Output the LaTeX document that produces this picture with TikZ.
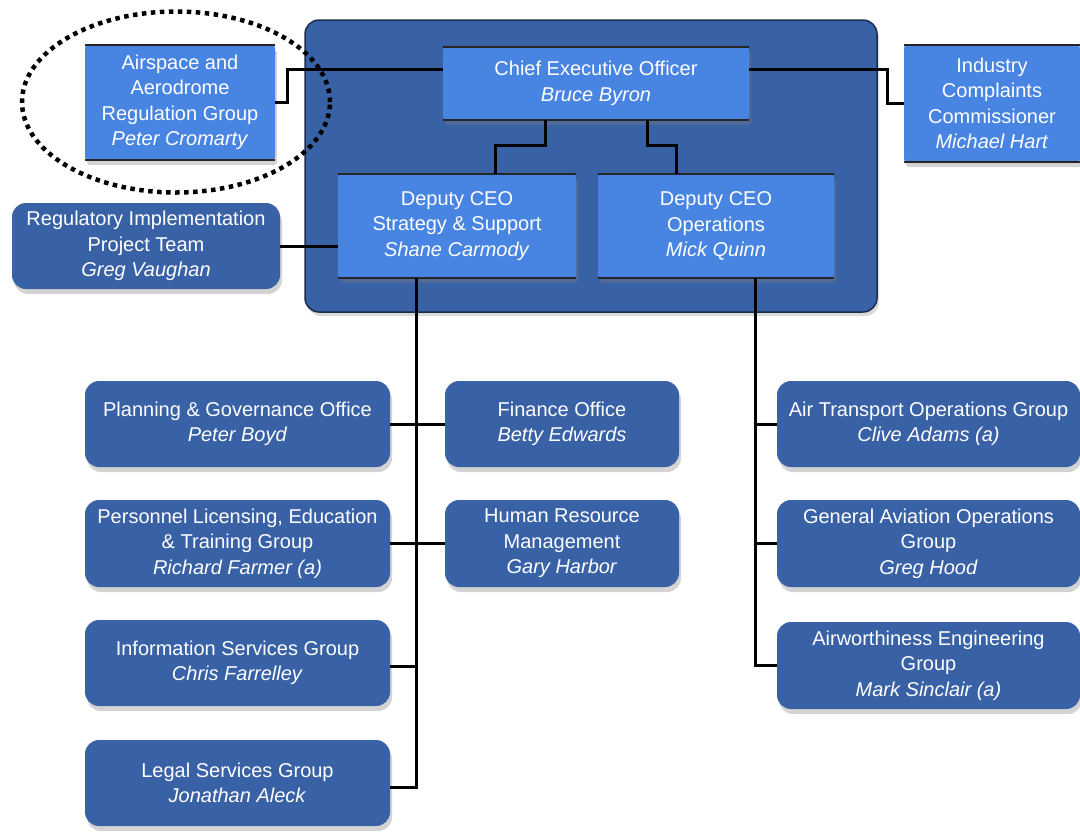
\documentclass[tikz,border=0pt]{standalone}
\usepackage{fontspec}
\setmainfont{Liberation Sans}
\usetikzlibrary{shadows,calc,shapes.geometric}
\definecolor{darkbox}{RGB}{56,97,166}
\definecolor{lightbox}{RGB}{72,132,226}
\definecolor{frame}{RGB}{28,45,80}
\tikzset{
  base/.style={text=white, align=center, inner sep=2pt,
    font=\fontsize{20}{25.5}\selectfont},
  dbox/.style={base, fill=darkbox, rounded corners=14pt,
    drop shadow={opacity=0.35, shadow xshift=2pt, shadow yshift=-5pt}},
  lbox/.style={base, fill=lightbox, rounded corners=3pt,
    drop shadow={opacity=0.35, shadow xshift=2pt, shadow yshift=-5pt}},
  container/.style={fill=darkbox, draw=frame, line width=1.5pt, rounded corners=14pt,
    drop shadow={opacity=0.3, shadow xshift=2pt, shadow yshift=-4pt}},
  conn/.style={draw=black, line width=3pt},
  edge/.style={draw=black!85, line width=1.8pt},
  ring/.style={draw=black, line width=4.5pt, dash pattern=on 4.5pt off 4.5pt}
}
\begin{document}
\begin{tikzpicture}[x=1pt,y=-1pt]
\useasboundingbox (0,0) rectangle (1080,831);

% container
\node[container, minimum width=572pt, minimum height=292pt] (ctr) at (591,166) {};

% light boxes
\node[lbox, minimum width=306pt, minimum height=73pt] (ceo) at (596,83.5)
  {Chief Executive Officer\\\textit{Bruce Byron}};
\node[lbox, minimum width=238pt, minimum height=104pt] (dss) at (457,226)
  {Deputy CEO\\Strategy \& Support\\\textit{Shane Carmody}};
\node[lbox, minimum width=236pt, minimum height=104pt] (ops) at (716,226)
  {Deputy CEO\\Operations\\\textit{Mick Quinn}};
\node[lbox, minimum width=190pt, minimum height=115pt] (air) at (180,102.5)
  {Airspace and\\Aerodrome\\Regulation Group\\\textit{Peter Cromarty}};
\node[lbox, minimum width=176pt, minimum height=117pt] (ind) at (992,103.5)
  {Industry\\Complaints\\Commissioner\\\textit{Michael Hart}};

% top/bottom edges of light boxes
\foreach \b in {ceo,dss,ops,air,ind}{
  \draw[edge] (\b.north west) -- (\b.north east);
  \draw[edge] (\b.south west) -- (\b.south east);
}

% dark boxes
\node[dbox, minimum width=268pt, minimum height=86pt] (reg) at (146,246)
  {Regulatory Implementation\\Project Team\\\textit{Greg Vaughan}};
\node[dbox, minimum width=305pt, minimum height=86pt] (plan) at (237.5,424)
  {Planning \& Governance Office\\\textit{Peter Boyd}};
\node[dbox, minimum width=234pt, minimum height=86pt] (fin) at (562,424)
  {Finance Office\\\textit{Betty Edwards}};
\node[dbox, minimum width=305pt, minimum height=87pt] (pers) at (237.5,543.5)
  {Personnel Licensing, Education\\\& Training Group\\\textit{Richard Farmer (a)}};
\node[dbox, minimum width=234pt, minimum height=87pt] (hr) at (562,543.5)
  {Human Resource\\Management\\\textit{Gary Harbor}};
\node[dbox, minimum width=305pt, minimum height=86pt] (info) at (237.5,663)
  {Information Services Group\\\textit{Chris Farrelley}};
\node[dbox, minimum width=305pt, minimum height=86pt] (legal) at (237.5,783)
  {Legal Services Group\\\textit{Jonathan Aleck}};
\node[dbox, minimum width=303pt, minimum height=86pt] (atog) at (928.5,424)
  {Air Transport Operations Group\\\textit{Clive Adams (a)}};
\node[dbox, minimum width=303pt, minimum height=87pt] (gaog) at (928.5,543.5)
  {General Aviation Operations\\Group\\\textit{Greg Hood}};
\node[dbox, minimum width=303pt, minimum height=87pt] (airw) at (928.5,665.5)
  {Airworthiness Engineering\\Group\\\textit{Mark Sinclair (a)}};

% connectors
\coordinate (ceoL) at ($(ceo.north west)!0.315!(ceo.south west)$);
\coordinate (ceoR) at ($(ceo.north east)!0.315!(ceo.south east)$);
\draw[conn] (ceoL) -- ++(-155,0) |- (air.east);
\draw[conn] (ceoR) -- ++(138,0) |- (ind.west);
\draw[conn] ([xshift=-51pt]ceo.south) -- ++(0,25) -| ([xshift=38pt]dss.north);
\draw[conn] ([xshift=51pt]ceo.south) -- ++(0,25) -| ([xshift=-40pt]ops.north);
\draw[conn] (reg.east) -- (reg.east -| dss.west);

\coordinate (dssB) at ([xshift=-41pt]dss.south);
\draw[conn] (dssB) |- ([yshift=-4pt]legal.east);
\draw[conn] (plan.east) -- (fin.west);
\draw[conn] (pers.east) -- (hr.west);
\draw[conn] ([yshift=-3pt]info.east) -- ([yshift=-3pt]info.east -| dssB);

\coordinate (opsB) at ([xshift=39pt]ops.south);
\draw[conn] (opsB) |- (airw.west);
\draw[conn] (atog.west) -- (atog.west -| opsB);
\draw[conn] (gaog.west) -- (gaog.west -| opsB);

% dotted ring
\node[ring, ellipse, minimum width=308pt, minimum height=181pt] (ring) at (176,102) {};
\end{tikzpicture}
\end{document}
